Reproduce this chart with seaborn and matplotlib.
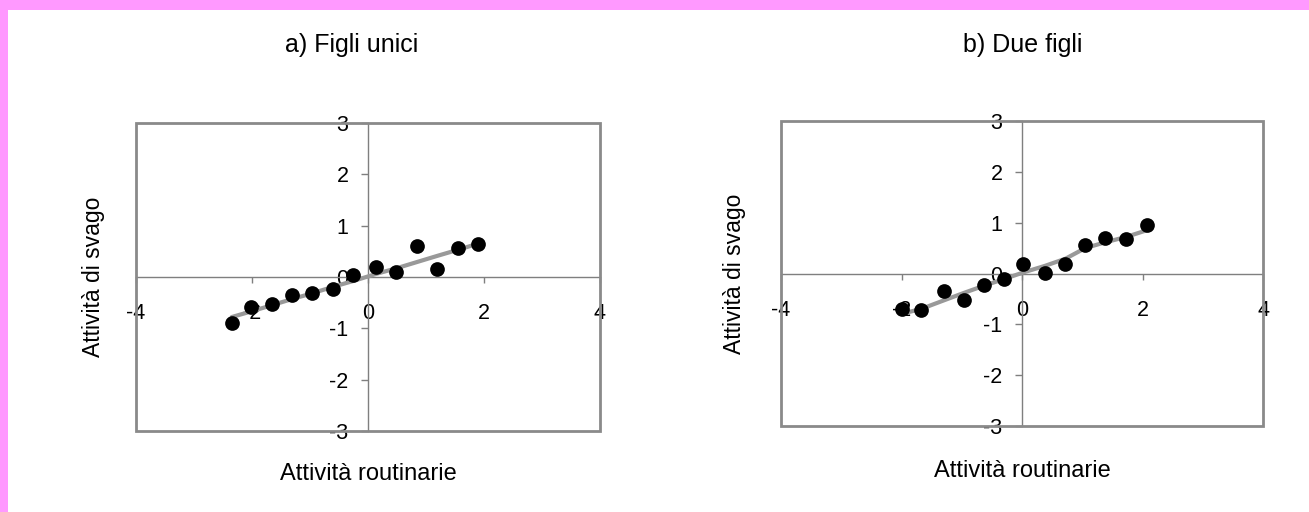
import matplotlib
matplotlib.use("Agg")
import matplotlib.pyplot as plt
from matplotlib.patches import Rectangle
import seaborn as sns
import pandas as pd

# ---- data ----
titles = ["a) Figli unici", "b) Due figli"]
x_label = "Attività routinarie"
y_label = "Attività di svago"

x_ticks = [-4, -2, 0, 2, 4]
y_ticks = [-3, -2, -1, 0, 1, 2, 3]

# a) Figli unici
a_x = [-2.35, -2.01, -1.66, -1.31, -0.97, -0.60, -0.26, 0.14, 0.49, 0.84, 1.19, 1.55, 1.90]
a_y = [-0.90, -0.59, -0.52, -0.35, -0.31, -0.23, 0.03, 0.20, 0.10, 0.60, 0.15, 0.56, 0.64]
a_fit = [-0.78, -0.67, -0.55, -0.43, -0.32, -0.19, -0.08, 0.06, 0.17, 0.29, 0.41, 0.53, 0.65]

# b) Due figli
b_x = [-1.99, -1.68, -1.30, -0.96, -0.63, -0.30, 0.02, 0.38, 0.72, 1.05, 1.37, 1.73, 2.07]
b_y = [-0.70, -0.71, -0.35, -0.53, -0.23, -0.11, 0.19, 0.01, 0.19, 0.57, 0.69, 0.68, 0.95]
b_fit = [-0.79, -0.70, -0.53, -0.38, -0.24, -0.11, 0.02, 0.15, 0.29, 0.50, 0.61, 0.72, 0.85]

panels = [
    pd.DataFrame({"x": a_x, "y": a_y, "fit": a_fit}),
    pd.DataFrame({"x": b_x, "y": b_y, "fit": b_fit}),
]

# ---- style ----
sns.set_theme(style="white")
plt.rcParams["font.family"] = ["Liberation Sans", "DejaVu Sans"]

W, H = 1309, 512
fig = plt.figure(figsize=(W / 100, H / 100), dpi=100)
fig.patch.set_facecolor("white")

# pixel boxes: (left, top, right, bottom)
boxes = [(136, 123, 600, 431), (781, 121, 1263, 426)]
title_pos = [(352, 52), (1023, 52)]
xlab_base = [480, 477]
ylab_x = [93.5, 735]

frame_col = "#8a8a8a"
axis_col = "#7f7f7f"

for i, (df, box) in enumerate(zip(panels, boxes)):
    l, t, r, b = box
    ax = fig.add_axes([l / W, 1 - b / H, (r - l) / W, (b - t) / H])
    ax.set_facecolor("white")

    sns.lineplot(data=df, x="x", y="fit", ax=ax, color="#999999", lw=3.0,
                 sort=True, estimator=None, zorder=2)
    sns.scatterplot(data=df, x="x", y="y", ax=ax, color="black", s=112,
                    edgecolor="black", linewidth=0, zorder=3)

    ax.set_xlim(-4, 4)
    ax.set_ylim(-3, 3)
    ax.set_xticks(x_ticks)
    ax.set_yticks(y_ticks)
    ax.set_xticklabels([str(v) for v in x_ticks])
    ax.set_yticklabels([str(v) for v in y_ticks])

    for side in ["top", "right"]:
        ax.spines[side].set_visible(False)
    ax.spines["left"].set_position(("data", 0))
    ax.spines["bottom"].set_position(("data", 0))
    for side in ["left", "bottom"]:
        ax.spines[side].set_color(axis_col)
        ax.spines[side].set_linewidth(1.0)
        ax.spines[side].set_zorder(1)

    ax.tick_params(axis="x", direction="out", length=4, width=1, color=axis_col,
                   pad=15, labelsize=15.5, labelcolor="black", bottom=True)
    ax.tick_params(axis="y", direction="out", length=5, width=1, color=axis_col,
                   pad=9, labelsize=15.5, labelcolor="black", left=True)

    # outer box
    ax.add_patch(Rectangle((0, 0), 1, 1, transform=ax.transAxes, fill=False,
                           edgecolor=frame_col, lw=2.0, clip_on=False, zorder=4))

    ax.set_xlabel(x_label, fontsize=17, color="black")
    ax.xaxis.label.set_va("baseline")
    ax.xaxis.set_label_coords(0.5, (b - xlab_base[i]) / (b - t))
    ax.set_ylabel(y_label, fontsize=16.5, color="black")
    ax.yaxis.label.set_va("center")
    ax.yaxis.set_label_coords((ylab_x[i] - l) / (r - l), 0.5)

    tx, ty = title_pos[i]
    fig.text(tx / W, 1 - ty / H, titles[i], fontsize=18, ha="center",
             va="baseline", color="black")

# pink border (top and left)
pink = "#ff99ff"
fig.add_artist(Rectangle((0, 1 - 10 / H), 1, 10 / H, transform=fig.transFigure,
                         facecolor=pink, edgecolor="none", zorder=10))
fig.add_artist(Rectangle((0, 0), 8 / W, 1, transform=fig.transFigure,
                         facecolor=pink, edgecolor="none", zorder=10))

fig.savefig("out.png", dpi=100, facecolor="white")
